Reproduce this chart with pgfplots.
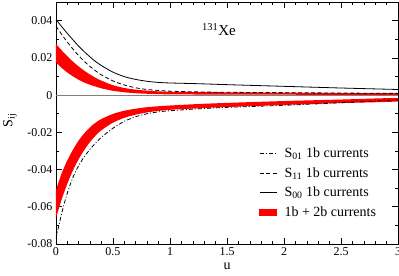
\documentclass[border=0pt]{standalone}
\usepackage{pgfplots}
\pgfplotsset{compat=1.18}
\usepackage{fontspec}
\setmainfont{Liberation Serif}
\begin{document}
\begin{tikzpicture}
\begin{axis}[
  scale only axis,
  width=342pt, height=242pt,
  xmin=0, xmax=3, ymin=-0.08, ymax=0.05,
  xtick={0,0.5,...,3},
  ytick={-0.08,-0.06,-0.04,-0.02,0,0.02,0.04},
  minor x tick num=4,
  minor y tick num=1,
  tick align=inside,
  major tick length=6pt,
  minor tick length=3pt,
  tick style={black, line width=0.6pt},
  axis line style={line width=0.8pt},
  scaled y ticks=false,
  /pgf/number format/assume math mode=true,
  yticklabel style={/pgf/number format/fixed, /pgf/number format/precision=2},
  ticklabel style={font=\fontsize{12}{14}\selectfont},
  xlabel={u},
  ylabel={S\textsubscript{ij}},
  label style={font=\fontsize{14}{16}\selectfont},
  ylabel style={at={(axis description cs:-0.135,0.51)}, anchor=center},
  xlabel style={yshift=-1pt},
  legend style={draw=none, fill=none, at={(0.951,0.09)}, anchor=south east,
    font=\fontsize{14}{16}\selectfont, row sep=4.5pt},
  legend cell align=left,
  legend image code/.code={\draw[#1] (0pt,0pt) -- (17pt,0pt); \path[draw=none,fill=none] (0pt,0pt) -- (23pt,0pt);},
]
\addplot[gray, line width=0.5pt, forget plot] coordinates {(0,0) (3,0)};
% upper band (1b+2b)
\addplot[fill=red, draw=none, smooth, forget plot] coordinates {
(0,0.0275) (0.05,0.0240) (0.1,0.0208) (0.15,0.0179) (0.2,0.0153) (0.25,0.0130)
(0.3,0.0110) (0.35,0.0092) (0.4,0.0077) (0.5,0.0053) (0.6,0.0038) (0.7,0.0029)
(0.8,0.0024) (0.9,0.0020) (1.0,0.0018) (1.25,0.0016) (1.5,0.0015) (2.0,0.0013)
(2.5,0.0011) (3.0,0.0010)
(3.0,0.0001) (2.5,0.0001) (2.0,0.0002) (1.5,0.0003) (1.25,0.0003) (1.0,0.0004)
(0.9,0.0005) (0.8,0.0007) (0.7,0.0010) (0.6,0.0015) (0.5,0.0023) (0.4,0.0036)
(0.35,0.0045) (0.3,0.0055) (0.25,0.0067) (0.2,0.0082) (0.15,0.0100) (0.1,0.0121)
(0.05,0.0146) (0,0.0175)
} -- cycle;
% lower band (1b+2b)
\addplot[fill=red, draw=none, smooth, forget plot] coordinates {
(0,-0.0510) (0.05,-0.0420) (0.1,-0.0350) (0.15,-0.0292) (0.2,-0.0243) (0.25,-0.0204)
(0.3,-0.0172) (0.35,-0.0147) (0.4,-0.0128) (0.5,-0.0101) (0.6,-0.0084) (0.7,-0.0073)
(0.8,-0.0065) (0.9,-0.0060) (1.0,-0.0056) (1.25,-0.0048) (1.5,-0.0042) (2.0,-0.0032)
(2.5,-0.0024) (3.0,-0.0016)
(3.0,-0.0034) (2.5,-0.0043) (2.0,-0.0053) (1.5,-0.0064) (1.25,-0.0071) (1.0,-0.0079)
(0.9,-0.0085) (0.8,-0.0093) (0.7,-0.0105) (0.6,-0.0122) (0.5,-0.0148) (0.4,-0.0188)
(0.35,-0.0216) (0.3,-0.0251) (0.25,-0.0293) (0.2,-0.0343) (0.15,-0.0403) (0.1,-0.0475)
(0.05,-0.0560) (0,-0.0660)
} -- cycle;
% S01 dash-dot
\addplot[black, line width=0.8pt, smooth, dash pattern=on 4pt off 2pt on 1pt off 2pt] coordinates {
(0,-0.0770) (0.05,-0.0635) (0.1,-0.0525) (0.15,-0.0440) (0.2,-0.0378) (0.25,-0.0330)
(0.3,-0.0290) (0.35,-0.0256) (0.4,-0.0226) (0.5,-0.0178) (0.6,-0.0141) (0.7,-0.0116)
(0.8,-0.0100) (0.9,-0.0090) (1.0,-0.0084) (1.25,-0.0074) (1.5,-0.0066) (2.0,-0.0055)
(2.5,-0.0041) (3.0,-0.0026)
};
% S11 dashed
\addplot[black, line width=0.8pt, smooth, dash pattern=on 4pt off 2.5pt] coordinates {
(0,0.0370) (0.05,0.0326) (0.1,0.0284) (0.15,0.0246) (0.2,0.0211) (0.25,0.0180)
(0.3,0.0153) (0.35,0.0129) (0.4,0.0108) (0.5,0.0076) (0.6,0.0054) (0.7,0.0039)
(0.8,0.0030) (0.9,0.0025) (1.0,0.0021) (1.25,0.0017) (1.5,0.0015) (2.0,0.0013)
(2.5,0.0011) (3.0,0.0009)
};
% S00 solid
\addplot[black, line width=0.8pt, smooth] coordinates {
(0,0.0406) (0.05,0.0368) (0.1,0.0331) (0.15,0.0296) (0.2,0.0262) (0.25,0.0232)
(0.3,0.0204) (0.35,0.0179) (0.4,0.0158) (0.5,0.0123) (0.6,0.0099) (0.7,0.0084)
(0.8,0.0074) (0.9,0.0068) (1.0,0.0065) (1.25,0.0061) (1.5,0.0056) (2.0,0.0047)
(2.5,0.0038) (3.0,0.0030)
};
\addlegendimage{legend image code/.code={\fill[red] (0pt,-3pt) rectangle (17pt,3pt); \path[draw=none,fill=none] (0pt,0pt) -- (23pt,0pt);}}
\legend{S\textsubscript{01} 1b currents, S\textsubscript{11} 1b currents, S\textsubscript{00} 1b currents, 1b + 2b currents}
\node[font=\fontsize{15}{17}\selectfont] at (axis cs:1.43,0.035) {\textsuperscript{131}Xe};
\end{axis}
\pgfresetboundingbox
\path[use as bounding box] ([xshift=-56pt,yshift=-31pt]current axis.south west) rectangle ([xshift=1pt,yshift=2pt]current axis.north east);
\end{tikzpicture}
\end{document}
